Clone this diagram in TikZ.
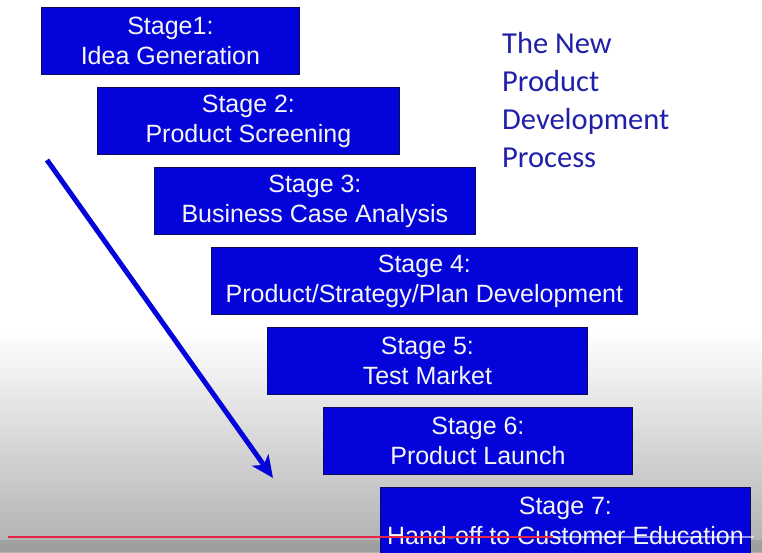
\documentclass[tikz,border=0pt]{standalone}
\usepackage{fontspec}
\setmainfont{Liberation Sans}
\newfontfamily\titlefont{Carlito}
\usetikzlibrary{arrows.meta, positioning}
\definecolor{stageblue}{RGB}{4,4,218}
\definecolor{stageedge}{RGB}{12,12,90}
\definecolor{titleblue}{RGB}{32,32,168}
\definecolor{barred}{RGB}{228,36,74}
\tikzset{
x=1pt, y=1pt, % one unit is one pixel of the slide
stage/.style={draw=stageedge, line width=0.8pt, fill=stageblue, text=white!92!gray,
  align=center, minimum height=67pt, inner sep=0pt, anchor=north west,
  font=\fontsize{25}{30}\selectfont}, % sets the look of each stage box
flow/.style={-{Stealth[length=22pt, width=20pt, inset=6pt]}, line width=5pt, draw=stageblue}, % the big arrow
}

\begin{document}
\begin{tikzpicture}
            \useasboundingbox (0,0) rectangle (762,552);
            \clip (0,0) rectangle (762,552);
            % grey shade of the player at the bottom
            \shade[top color=white, bottom color=gray!62] (0,0) rectangle (762,222);
            \fill[black, opacity=0.1] (0,0) rectangle (762,12);

            \node[stage, minimum width=258pt] (stage1) at (41,545) {Stage1:\\Idea Generation};
            \node[stage, minimum width=302pt] (stage2) at (97,465) {Stage 2:\\Product Screening};
            \node[stage, minimum width=321pt] (stage3) at (154,385) {Stage 3:\\Business Case Analysis};
            \node[stage, minimum width=426pt] (stage4) at (211,305) {Stage 4:\\Product/Strategy/Plan Development};
            \node[stage, minimum width=320pt] (stage5) at (267,225) {Stage 5:\\Test Market};
            \node[stage, minimum width=309pt] (stage6) at (323,145) {Stage 6:\\Product Launch};
            \node[stage, minimum width=370pt] (stage7) at (380,65) {Stage 7:\\Hand-off to Customer Education};

            \node[anchor=west, align=left, inner sep=0pt, text=titleblue,
                  font=\titlefont\fontsize{30.5}{37.7}\selectfont] (title) at (502,452)
                  {The New\\Product\\Development\\Process};

            \coordinate (flowstart) at (47,392);
            \coordinate (flowend) at (273,74);
            \draw[flow] (flowstart) -- (flowend);

            % progress bar
            \coordinate (barstart) at (8,15);
            \coordinate (barmid) at (553,15);
            \coordinate (barend) at (754,15);
            \draw[white, opacity=0.55, line width=2pt] (barmid) -- (barend);
            \draw[barred, line width=2.5pt] (barstart) -- (barmid);
        \end{tikzpicture}
\end{document}
